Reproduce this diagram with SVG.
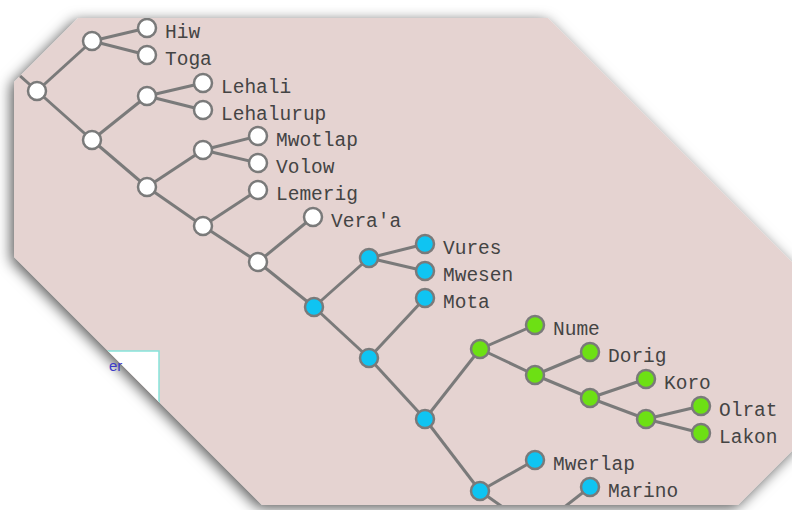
<svg xmlns="http://www.w3.org/2000/svg" width="792" height="510" viewBox="0 0 792 510">
  <defs>
    <filter id="shadow" x="-10%" y="-10%" width="120%" height="120%">
      <feDropShadow dx="-3" dy="3" stdDeviation="7" flood-color="#000" flood-opacity="0.65"/>
    </filter>
    <clipPath id="clip">
      <polygon points="78,18 548,18 798,268 798,445 738,505 262,505 14,257 14,82"/>
    </clipPath>
    <style>
      .edge { stroke: #7a7a7a; stroke-width: 3; fill: none; }
      .node { stroke: #7a7a7a; stroke-width: 2.5; }
      .w { fill: #ffffff; }
      .b { fill: #0fc4f2; }
      .g { fill: #6de014; }
      .lbl { font-family: "Courier New", "Liberation Mono", monospace; font-size: 19.5px; fill: #444; }
    </style>
  </defs>
  <rect x="0" y="0" width="792" height="510" fill="#ffffff"/>
  <polygon points="78,18 548,18 798,268 798,445 738,505 262,505 14,257 14,82" fill="#e5d3d1" filter="url(#shadow)"/>
  <g clip-path="url(#clip)">
    <g id="legend">
      <rect x="60" y="351" width="99" height="80" fill="#ffffff" stroke="#86e3da" stroke-width="1.5"/>
    </g>
    <g id="connectors">
      <line class="edge" x1="-18" y1="42" x2="37" y2="91"/>
      <line class="edge" x1="37" y1="91" x2="92" y2="41"/>
      <line class="edge" x1="37" y1="91" x2="92" y2="140"/>
      <line class="edge" x1="92" y1="41" x2="147" y2="28"/>
      <line class="edge" x1="92" y1="41" x2="147" y2="55"/>
      <line class="edge" x1="92" y1="140" x2="147" y2="96"/>
      <line class="edge" x1="92" y1="140" x2="147" y2="187"/>
      <line class="edge" x1="147" y1="96" x2="203" y2="83"/>
      <line class="edge" x1="147" y1="96" x2="203" y2="110"/>
      <line class="edge" x1="147" y1="187" x2="203" y2="150"/>
      <line class="edge" x1="147" y1="187" x2="203" y2="226"/>
      <line class="edge" x1="203" y1="150" x2="258" y2="136"/>
      <line class="edge" x1="203" y1="150" x2="258" y2="163"/>
      <line class="edge" x1="203" y1="226" x2="258" y2="190"/>
      <line class="edge" x1="203" y1="226" x2="258" y2="262"/>
      <line class="edge" x1="258" y1="262" x2="313" y2="217"/>
      <line class="edge" x1="258" y1="262" x2="314" y2="307"/>
      <line class="edge" x1="314" y1="307" x2="369" y2="258"/>
      <line class="edge" x1="314" y1="307" x2="369" y2="358"/>
      <line class="edge" x1="369" y1="258" x2="425" y2="244"/>
      <line class="edge" x1="369" y1="258" x2="425" y2="271"/>
      <line class="edge" x1="369" y1="358" x2="425" y2="298"/>
      <line class="edge" x1="369" y1="358" x2="425" y2="419"/>
      <line class="edge" x1="425" y1="419" x2="480" y2="349"/>
      <line class="edge" x1="425" y1="419" x2="480" y2="491"/>
      <line class="edge" x1="480" y1="349" x2="535" y2="325"/>
      <line class="edge" x1="480" y1="349" x2="535" y2="375"/>
      <line class="edge" x1="535" y1="375" x2="590" y2="352"/>
      <line class="edge" x1="535" y1="375" x2="590" y2="398"/>
      <line class="edge" x1="590" y1="398" x2="646" y2="379"/>
      <line class="edge" x1="590" y1="398" x2="646" y2="419"/>
      <line class="edge" x1="646" y1="419" x2="701" y2="406"/>
      <line class="edge" x1="646" y1="419" x2="701" y2="433"/>
      <line class="edge" x1="480" y1="491" x2="535" y2="460"/>
      <line class="edge" x1="480" y1="491" x2="535" y2="530"/>
      <line class="edge" x1="535" y1="530" x2="590" y2="487"/>
    </g>
    <g id="root"><circle class="node w" cx="37" cy="91" r="9"/></g>
    <g id="n1"><circle class="node w" cx="92" cy="41" r="9"/></g>
    <g id="hiw"><circle class="node w" cx="147" cy="28" r="9"/><text class="lbl" x="165" y="38">Hiw</text></g>
    <g id="toga"><circle class="node w" cx="147" cy="55" r="9"/><text class="lbl" x="165" y="65">Toga</text></g>
    <g id="n2"><circle class="node w" cx="92" cy="140" r="9"/></g>
    <g id="n3"><circle class="node w" cx="147" cy="96" r="9"/></g>
    <g id="lehali"><circle class="node w" cx="203" cy="83" r="9"/><text class="lbl" x="221" y="93">Lehali</text></g>
    <g id="lehalurup"><circle class="node w" cx="203" cy="110" r="9"/><text class="lbl" x="221" y="120">Lehalurup</text></g>
    <g id="n4"><circle class="node w" cx="147" cy="187" r="9"/></g>
    <g id="n5"><circle class="node w" cx="203" cy="150" r="9"/></g>
    <g id="mwotlap"><circle class="node w" cx="258" cy="136" r="9"/><text class="lbl" x="276" y="146">Mwotlap</text></g>
    <g id="volow"><circle class="node w" cx="258" cy="163" r="9"/><text class="lbl" x="276" y="173">Volow</text></g>
    <g id="n6"><circle class="node w" cx="203" cy="226" r="9"/></g>
    <g id="lemerig"><circle class="node w" cx="258" cy="190" r="9"/><text class="lbl" x="276" y="200">Lemerig</text></g>
    <g id="n7"><circle class="node w" cx="258" cy="262" r="9"/></g>
    <g id="veraa"><circle class="node w" cx="313" cy="217" r="9"/><text class="lbl" x="331" y="227">Vera'a</text></g>
    <g id="b1"><circle class="node b" cx="314" cy="307" r="9"/></g>
    <g id="b2"><circle class="node b" cx="369" cy="258" r="9"/></g>
    <g id="vures"><circle class="node b" cx="425" cy="244" r="9"/><text class="lbl" x="443" y="254">Vures</text></g>
    <g id="mwesen"><circle class="node b" cx="425" cy="271" r="9"/><text class="lbl" x="443" y="281">Mwesen</text></g>
    <g id="b3"><circle class="node b" cx="369" cy="358" r="9"/></g>
    <g id="mota"><circle class="node b" cx="425" cy="298" r="9"/><text class="lbl" x="443" y="308">Mota</text></g>
    <g id="b4"><circle class="node b" cx="425" cy="419" r="9"/></g>
    <g id="g1"><circle class="node g" cx="480" cy="349" r="9"/></g>
    <g id="nume"><circle class="node g" cx="535" cy="325" r="9"/><text class="lbl" x="553" y="335">Nume</text></g>
    <g id="g2"><circle class="node g" cx="535" cy="375" r="9"/></g>
    <g id="dorig"><circle class="node g" cx="590" cy="352" r="9"/><text class="lbl" x="608" y="362">Dorig</text></g>
    <g id="g3"><circle class="node g" cx="590" cy="398" r="9"/></g>
    <g id="koro"><circle class="node g" cx="646" cy="379" r="9"/><text class="lbl" x="664" y="389">Koro</text></g>
    <g id="g4"><circle class="node g" cx="646" cy="419" r="9"/></g>
    <g id="olrat"><circle class="node g" cx="701" cy="406" r="9"/><text class="lbl" x="719" y="416">Olrat</text></g>
    <g id="lakon"><circle class="node g" cx="701" cy="433" r="9"/><text class="lbl" x="719" y="443">Lakon</text></g>
    <g id="b5"><circle class="node b" cx="480" cy="491" r="9"/></g>
    <g id="mwerlap"><circle class="node b" cx="535" cy="460" r="9"/><text class="lbl" x="553" y="470">Mwerlap</text></g>
    <g id="marino"><circle class="node b" cx="590" cy="487" r="9"/><text class="lbl" x="608" y="497">Marino</text></g>
  </g>
  <text x="109" y="371" font-family="'Liberation Sans', Arial, sans-serif" font-size="15" fill="#3c3cc8">er</text>
</svg>
